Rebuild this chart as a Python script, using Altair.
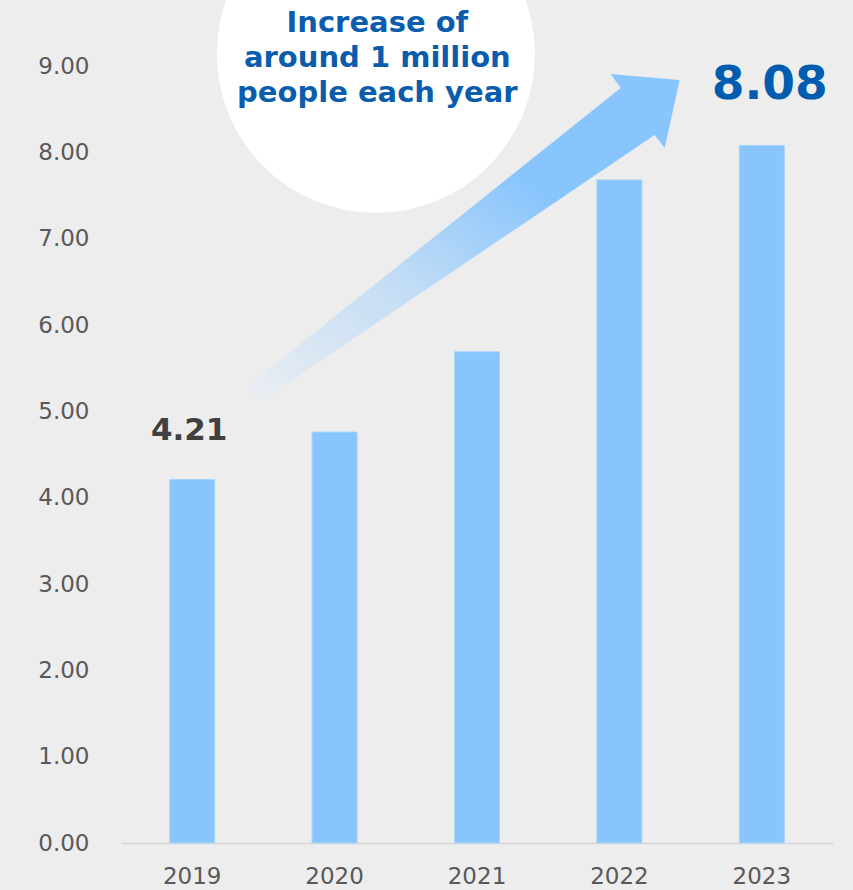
import altair as alt
import pandas as pd

# --- data ---
years = ["2019", "2020", "2021", "2022", "2023"]
values = [4.21, 4.76, 5.69, 7.68, 8.08]

# annotation: callout circle + arrow (in data units: x = band index 0..5, y = value)
note_lines = ["Increase of", "around 1 million", "people each year"]
circle_x = [1.79]
circle_y = [9.14]
text_x = [1.80]
text_y = [9.39]
arrow_x = [0.975, 0.891, 3.509, 3.439, 3.923, 3.818, 3.747]
arrow_y = [5.108, 5.294, 8.746, 8.908, 8.838, 8.051, 8.201]

df = pd.DataFrame({"year": years, "value": values})
arrow_df = pd.DataFrame({"x": arrow_x, "value": arrow_y, "i": list(range(len(arrow_x)))})
circle_df = pd.DataFrame({"x": circle_x, "value": circle_y})
text_df = pd.DataFrame({"x": text_x, "value": text_y})

FONT = "DejaVu Sans"
y_axis = alt.Axis(
    values=list(range(10)), format=".2f", grid=False, domain=False, ticks=False,
    labelPadding=32, labelFontSize=23, labelColor="#595959", title=None, labelFont=FONT,
)
y_scale = alt.Scale(domain=[0, 9], nice=False, zero=True)
y_enc = alt.Y("value:Q", scale=y_scale, axis=y_axis)
x_band = alt.X(
    "year:N",
    sort=years,
    scale=alt.Scale(paddingInner=0, paddingOuter=0),
    axis=alt.Axis(
        title=None, labelAngle=0, labelFontSize=23, labelColor="#595959", labelPadding=22,
        ticks=False, domainColor="#D6D6D6", domainWidth=1.5, labelFont=FONT,
    ),
)

base = alt.Chart(df)
bars = base.mark_bar(size=45, color="#88C5FD", stroke="#A8D4FB", strokeWidth=1).encode(x=x_band, y=y_enc)
lbl_first = base.transform_filter(alt.datum.year == years[0]).mark_text(
    fontSize=31, fontWeight="bold", color="#404040", dy=-40, dx=-3, baseline="alphabetic", font=FONT
).encode(x=x_band, y=y_enc, text=alt.Text("value:Q", format=".2f"))
lbl_last = base.transform_filter(alt.datum.year == years[-1]).mark_text(
    fontSize=47, fontWeight="bold", color="#005CAF", dy=-46, dx=8, baseline="alphabetic", font=FONT
).encode(x=x_band, y=y_enc, text=alt.Text("value:Q", format=".2f"))

band_layer = alt.layer(bars, lbl_first, lbl_last)

xq = lambda: alt.X("x:Q", scale=alt.Scale(domain=[0, 5], nice=False, zero=False), axis=None)
yq = lambda: alt.Y("value:Q", scale=y_scale, axis=y_axis)

grad = {
    "gradient": "linear",
    "x1": 0, "y1": 1, "x2": 1, "y2": 0,
    "stops": [
        {"offset": 0.0, "color": "#EBEEF2"},
        {"offset": 0.35, "color": "#C4DDF5"},
        {"offset": 0.66, "color": "#88C5FD"},
        {"offset": 1.0, "color": "#88C5FD"},
    ],
}
arrow = alt.Chart(arrow_df).mark_line(
    interpolate="linear-closed", fill=grad, strokeWidth=0, clip=False
).encode(x=xq(), y=yq(), order="i:Q")

circle = alt.Chart(circle_df).mark_point(
    filled=True, shape="circle", size=318 * 318, color="#FFFFFF", opacity=1, clip=False
).encode(x=xq(), y=yq())

note = alt.Chart(text_df).mark_text(
    fontSize=29, fontWeight="bold", color="#0A5DAD", lineHeight=35, align="center",
    baseline="alphabetic", font=FONT, clip=False
).encode(x=xq(), y=yq(), text=alt.value(note_lines))

anno_layer = alt.layer(circle, arrow, note)

chart = alt.layer(band_layer, anno_layer).resolve_scale(x="independent").properties(
    width=712, height=777,
    autosize=alt.AutoSizeParams(type="none"),
    padding={"left": 121, "top": 66, "right": 20, "bottom": 47},
    background="#EDEDED",
).configure(font=FONT).configure_view(stroke=None)

chart.save("out.html", embed_options={"renderer": "svg", "actions": False})
